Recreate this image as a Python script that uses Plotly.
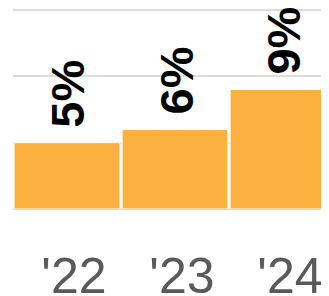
import plotly.graph_objects as go

categories = ["'22", "'23", "'24"]
values = [5, 6, 9]
labels = ["5%", "6%", "9%"]
tick_labels = ["\u00a0'22", "\u00a0'23", "\u00a0'24"]

fig = go.Figure()
fig.add_trace(go.Bar(
    x=categories, y=values,
    marker=dict(color="#FBB040", line=dict(color="white", width=1)),
    hoverinfo="skip",
))

for c, v, t in zip(categories, values, labels):
    fig.add_annotation(
        x=c, y=v, text=t, showarrow=False, textangle=-90,
        xanchor="center", yanchor="bottom", yshift=13, xshift=1,
        font=dict(family="Liberation Sans", size=47, color="black", weight="bold"),
    )

fig.update_layout(
    width=329, height=296,
    margin=dict(l=5, r=0, t=0, b=89),
    paper_bgcolor="white", plot_bgcolor="white",
    bargap=0.02,
    showlegend=False,
    xaxis=dict(
        range=[-0.5, 2.5], showgrid=False, zeroline=False, showline=False,
        tickmode="array", tickvals=categories, ticktext=tick_labels,
        ticks="", tickfont=dict(family="Liberation Sans", size=50, color="#5a5a5a"),
        ticklabelstandoff=33,
    ),
    yaxis=dict(
        range=[0, 15.15], dtick=5, showticklabels=False, ticks="",
        showgrid=True, gridcolor="#dcdcdc", gridwidth=1.5,
        zeroline=True, zerolinecolor="#dcdcdc", zerolinewidth=1.5, showline=False,
    ),
)

fig.write_html("out.html")
